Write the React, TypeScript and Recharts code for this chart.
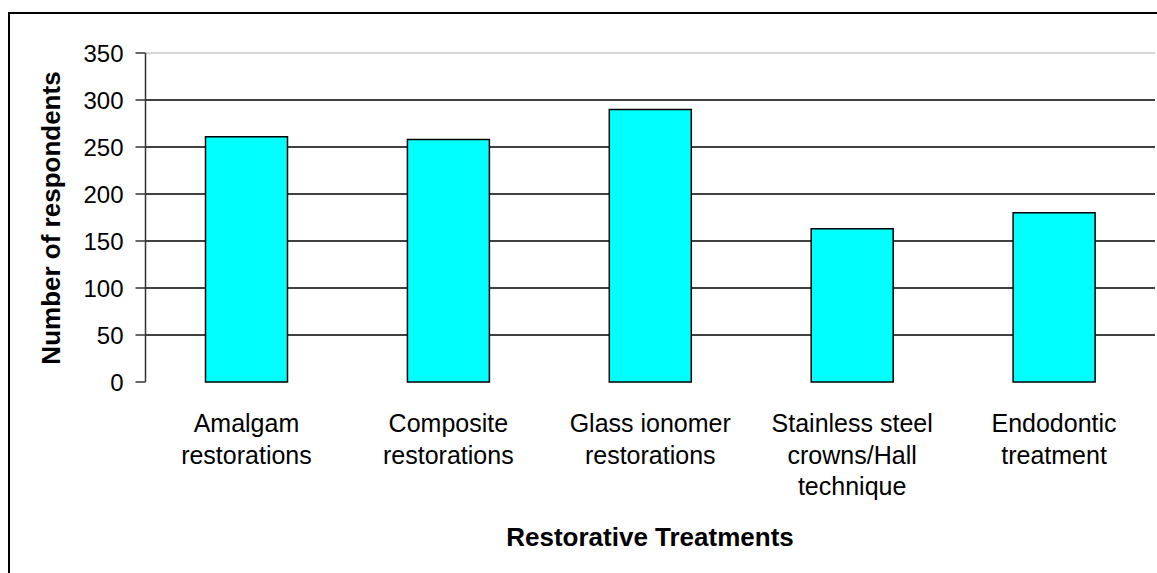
import React from "react";
import {
  BarChart,
  Bar,
  XAxis,
  YAxis,
  CartesianGrid,
  ReferenceLine,
} from "recharts";

const categories = [
  "Amalgam\nrestorations",
  "Composite\nrestorations",
  "Glass ionomer\nrestorations",
  "Stainless steel\ncrowns/Hall\ntechnique",
  "Endodontic\ntreatment",
];
const respondents = [261, 258, 290, 163, 180];
const yTicks = [0, 50, 100, 150, 200, 250, 300, 350];
const gridValues = [50, 100, 150, 200, 250, 300];
const boundaryTicks = [0, 1, 2, 3, 4, 5];
const yTitle = "Number of respondents";
const xTitle = "Restorative Treatments";

const data = categories.map((name, i) => ({ name, value: respondents[i] }));

const FONT = "'Liberation Sans', Arial, sans-serif";

const CategoryTick = (props: any) => {
  const { x, y, payload } = props;
  const lines = String(payload.value).split("\n");
  return (
    <text
      x={x}
      y={y}
      textAnchor="middle"
      fontFamily={FONT}
      fontSize={25}
      fill="#000"
    >
      {lines.map((l, i) => (
        <tspan key={i} x={x} dy={i === 0 ? 50 : 31.5}>
          {l}
        </tspan>
      ))}
    </text>
  );
};

export default function App() {
  return (
    <div
      style={{
        position: "absolute",
        left: 0,
        top: 0,
        width: 1157,
        height: 573,
        overflow: "hidden",
        background: "#fff",
      }}
    >
      <div
        style={{
          position: "absolute",
          left: 8,
          top: 12,
          width: 1400,
          height: 900,
          borderLeft: "2.5px solid #000",
          borderTop: "2.5px solid #000",
        }}
      />
      <div style={{ position: "absolute", left: 0, top: 0 }}>
        <BarChart
          width={1157}
          height={573}
          data={data}
          margin={{ top: 53, right: 2, left: 0, bottom: 0 }}
        >
          <CartesianGrid
            xAxisId="cat"
            vertical={false}
            horizontalValues={gridValues}
            stroke="#000"
            strokeWidth={1.5}
          />
          <ReferenceLine
            xAxisId="cat"
            y={350}
            stroke="#c8c8c8"
            strokeWidth={1.5}
          />
          <XAxis
            xAxisId="edges"
            type="number"
            domain={[0, categories.length]}
            ticks={boundaryTicks}
            allowDataOverflow
            height={0}
            tick={false}
            tickSize={9}
            axisLine={{ stroke: "#333", strokeWidth: 1.5 }}
            tickLine={{ stroke: "#333", strokeWidth: 1.5 }}
          />
          <XAxis
            xAxisId="cat"
            dataKey="name"
            height={191}
            interval={0}
            axisLine={false}
            tickLine={false}
            tickSize={0}
            tickMargin={0}
            tick={<CategoryTick />}
          />
          <YAxis
            width={145.5}
            domain={[0, 350]}
            ticks={yTicks}
            interval={0}
            tickSize={10}
            tickMargin={12}
            axisLine={{ stroke: "#333", strokeWidth: 1.5 }}
            tickLine={{ stroke: "#333", strokeWidth: 1.5 }}
            tick={{ fill: "#000", fontSize: 24, fontFamily: FONT }}
          />
          <Bar
            xAxisId="cat"
            dataKey="value"
            fill="#00FFFF"
            stroke="#000"
            strokeWidth={1.5}
            barSize={82}
            isAnimationActive={false}
          />
        </BarChart>
      </div>
      <svg
        width={1157}
        height={573}
        style={{ position: "absolute", left: 0, top: 0, pointerEvents: "none" }}
      >
        <text
          x={0}
          y={0}
          transform="translate(60,218) rotate(-90)"
          textAnchor="middle"
          fontFamily={FONT}
          fontWeight="bold"
          fontSize={26}
          fill="#000"
        >
          {yTitle}
        </text>
        <text
          x={650}
          y={546}
          textAnchor="middle"
          fontFamily={FONT}
          fontWeight="bold"
          fontSize={26}
          fill="#000"
        >
          {xTitle}
        </text>
      </svg>
    </div>
  );
}
